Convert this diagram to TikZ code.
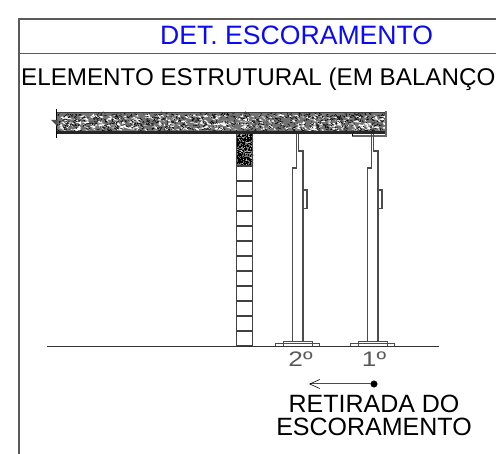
\documentclass[tikz,border=0pt]{standalone}
\usepackage{fontspec}
\setmainfont{Liberation Sans}
\newfontfamily\ordfont[FakeStretch=1.25]{Liberation Sans}
\usepackage{tikz}
\usetikzlibrary{arrows.meta, positioning, calc}
\definecolor{titleblue}{RGB}{10,10,245}
\definecolor{framegray}{RGB}{90,90,90}
\tikzset{
  labeltext/.style={inner sep=0pt, font=\fontsize{25}{23.5}\selectfont},
  ordtext/.style={inner sep=0pt, text=black!65, font=\ordfont\fontsize{21}{21}\selectfont},
  wall/.style={line width=1.1pt, black!75},
  shore/.style={line width=1.1pt, black!70}
}

\begin{document}
\begin{tikzpicture}[x=1pt, y=-1pt]
\useasboundingbox (0,0) rectangle (496,454);

% Frame
\draw[framegray, line width=1.2pt] (496,19) -- (19,19) -- (19,454);
\draw[framegray, line width=1pt] (19,54) -- (496,54);

% Titles
\node (title) [labeltext, anchor=base west, text=titleblue, font=\fontsize{26.6}{26}\selectfont] at (160,45) {DET. ESCORAMENTO};
\node (element) [labeltext, anchor=base west, font=\fontsize{24.2}{24}\selectfont] at (21,86) {ELEMENTO ESTRUTURAL (EM BALANÇO};

% Slab
\fill[black!55] (57,112) rectangle (386,134);
\begin{scope}
\clip (57,112) rectangle (386,135);
\pgfmathsetseed{41}
\foreach \i in {1,...,420}{
  \pgfmathsetmacro{\px}{57+329*rnd}
  \pgfmathsetmacro{\py}{115+15*rnd}
  \fill[white] (\px,\py) -- ++(2+4*rnd,0.5+1.5*rnd) -- ++(-3*rnd,-1-2*rnd) -- cycle;
}
\foreach \i in {1,...,900}{
  \pgfmathsetmacro{\px}{57+329*rnd}
  \pgfmathsetmacro{\py}{113+19*rnd}
  \draw[black, line width=0.55pt] (\px,\py) -- ++(-3+6*rnd,-2+4*rnd);
}
\fill[black!75] (57,112) rectangle (386,113.5);
\fill[black!85] (57,131.5) rectangle (386,134.5);
\end{scope}

% Slab ends
\draw[black, line width=0.9pt] (56.5,109) -- (56.5,138);
\fill[black!70] (51,120) -- (57,120) -- (57,126) -- cycle;
\draw[black!60, line width=1.6pt] (386,111) -- (386,136) -- (352,136);
\draw[black, line width=0.8pt] (352,134) -- (352,136);

% Column
\fill[black!55] (236,134) rectangle (253,166);
\begin{scope}
\clip (236,134) rectangle (253,166);
\pgfmathsetseed{7}
\foreach \i in {1,...,380}{
  \pgfmathsetmacro{\px}{236+17*rnd}
  \pgfmathsetmacro{\py}{134+32*rnd}
  \fill[black] (\px,\py) rectangle ++(1.2,1.2);
}
\foreach \i in {1,...,40}{
  \pgfmathsetmacro{\px}{236+17*rnd}
  \pgfmathsetmacro{\py}{134+32*rnd}
  \fill[black!25] (\px,\py) rectangle ++(1.3,0.9);
}
\end{scope}
\draw[wall] (236.5,134) -- (236.5,346);
\draw[wall] (252.5,134) -- (252.5,346);
\foreach \y in {166,181,...,346}
  \draw[wall] (236,\y) -- (253,\y);

% Ground
\draw[black!80, line width=0.9pt] (47,346) -- (439,346);

% Shores
\foreach \sx in {0,75}{
\begin{scope}[xshift=\sx pt]
\draw[shore] (296.5,134) -- (296.5,168) -- (292.5,168) -- (292.5,342);
\draw[shore] (298.5,134) -- (298.5,151) -- (303,151) -- (303,342);
\draw[shore] (303,190) -- (307,190) -- (307,208.5) -- (303,208.5);
\draw[shore, line width=0.9pt] (283,346) -- (283,341.5) -- (312,341.5) -- (312,346);
\draw[shore, line width=0.8pt] (275.5,346) -- (275.5,343.5) -- (319.5,343.5) -- (319.5,346);
\end{scope}
}

% Order labels
\node (second) [ordtext, anchor=base] at (300.5,367) {2º};
\node (first) [ordtext, anchor=base] at (374,367) {1º};

% Removal arrow
\coordinate (tip) at (309,384);
\node (dot) [draw, circle, fill=black, minimum size=6.5pt, inner sep=0pt] at (374,384) {};
\draw[black!70, line width=1pt, -{Straight Barb[length=10pt, width=9pt, black, line width=0.6pt]}] (dot) -- (tip);

% Removal note
\node (note) [labeltext, align=center, anchor=north, below=7pt of dot] {RETIRADA DO\\ESCORAMENTO};
\end{tikzpicture}
\end{document}
